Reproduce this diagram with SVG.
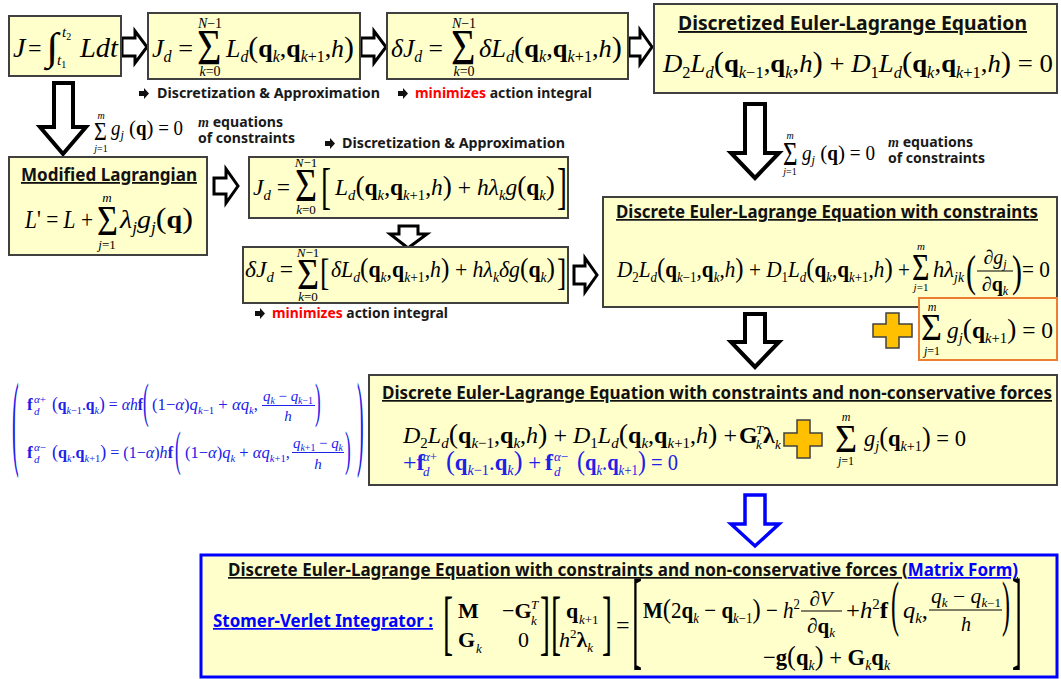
<svg xmlns="http://www.w3.org/2000/svg" width="1061" height="679" viewBox="0 0 1061 679">
<style>
.box{fill:#FFFFCC;stroke:#404040;stroke-width:2}
.obox{fill:#FFFFCC;stroke:#ED7D31;stroke-width:2}
.bbox{fill:#FFFFCC;stroke:#0000FF;stroke-width:3}
.arr{fill:#fff;stroke:#000;stroke-width:3;stroke-linejoin:miter}
.arr4{fill:#fff;stroke:#000;stroke-width:4;stroke-linejoin:miter}
.barr{fill:#fff;stroke:#0000FF;stroke-width:3.5;stroke-linejoin:miter}
.plus{fill:#FFC000;stroke:#404040;stroke-width:1.5}
.m{font-family:"Liberation Serif",serif;font-style:italic;fill:#000}
.r{font-style:normal}
.b{font-style:normal;font-weight:bold}
.lb{font-family:"Noto Sans","Open Sans",sans-serif;font-weight:bold;fill:#1a1a1a;font-size:14px}
.tt{font-family:"Noto Sans","Open Sans",sans-serif;font-weight:bold;fill:#111}
.u{text-decoration:underline}
.mm{font-family:"Liberation Serif",serif;font-style:italic}
.red{fill:#FF0000}
.blue{fill:#2020E8}
.bl{fill:#0000FF}
.fr{stroke:#000;stroke-width:1.2}
.frb{stroke:#2020E8;stroke-width:1.2}
</style>
<defs>
<path id="bul" d="M0,-2.5 H5 V-5.5 L10,0 L5,5.5 V2.5 H0 Z" fill="#111"/>
</defs>

<g id="connectors">
<polygon class="arr" points="122,38 135,38 135,31 147,47 135,63 135,56 122,56"/>
<polygon class="arr" points="361,38 374,38 374,31 386,47 374,63 374,56 361,56"/>
<polygon class="arr" points="629,38 640,38 640,30 652,47 640,64 640,56 629,56"/>
<polygon class="arr4" points="54,83 73,83 73,127 86,127 63,154 40,127 54,127"/>
<polygon class="arr" points="214,178 226,178 226,169 238,186 226,203 226,194 214,194"/>
<polygon class="arr" points="399,226 418,226 418,234 427,234 408,248 390,234 399,234"/>
<polygon class="arr" points="574,266 585,266 585,258 597,275 585,292 585,284 574,284"/>
<polygon class="arr4" points="745,104 765,104 765,153 779,153 755,178 731,153 745,153"/>
<polygon class="arr4" points="745,314 765,314 765,342 779,342 755,367 731,342 745,342"/>
<polygon class="barr" points="745,495 765,495 765,524 779,524 755,546 731,524 745,524"/>
</g>

<g id="n1">
<rect class="box" x="9" y="16" width="112" height="60"/>
<text class="m" font-size="28" x="13" y="57">J</text>
<text class="m r" font-size="24" x="28" y="56">=</text>
<text class="m r" font-size="34" transform="translate(46,60) scale(1.3,1.15)">∫</text>
<text class="m" font-size="15" x="62" y="37">t<tspan class="r" font-size="10" dy="3">2</tspan></text>
<text class="m" font-size="15" x="57" y="65">t<tspan class="r" font-size="10" dy="3">1</tspan></text>
<text class="m" font-size="28" x="80" y="57" textLength="38" lengthAdjust="spacingAndGlyphs">Ldt</text>
</g>

<g id="n2">
<rect class="box" x="148" y="13" width="212" height="66"/>
<text class="m" font-size="26" x="152" y="57" textLength="41" lengthAdjust="spacingAndGlyphs">J<tspan font-size="16" dy="5">d</tspan><tspan class="r" dy="-5"> =</tspan></text>
<text class="m r" font-size="42" transform="translate(197,64) scale(1,1.22)">Σ</text>
<text class="m" font-size="14" x="210" y="28" text-anchor="middle">N<tspan class="r">−1</tspan></text>
<text class="m" font-size="14" x="210" y="76" text-anchor="middle">k<tspan class="r">=0</tspan></text>
<text class="m" font-size="26" x="226" y="57" textLength="128" lengthAdjust="spacingAndGlyphs">L<tspan font-size="16" dy="5">d</tspan><tspan class="r" font-size="30" dy="-5">(</tspan><tspan class="b">q</tspan><tspan font-size="16" dy="5">k</tspan><tspan class="r" dy="-5">,</tspan><tspan class="b">q</tspan><tspan font-size="16" dy="5">k<tspan class="r">+1</tspan></tspan><tspan class="r" dy="-5">,</tspan>h<tspan class="r" font-size="30">)</tspan></text>
</g>

<g id="n3">
<rect class="box" x="387" y="13" width="241" height="66"/>
<text class="m" font-size="26" x="391" y="57" textLength="52" lengthAdjust="spacingAndGlyphs">δJ<tspan font-size="16" dy="5">d</tspan><tspan class="r" dy="-5"> =</tspan></text>
<text class="m r" font-size="42" transform="translate(451,64) scale(1,1.22)">Σ</text>
<text class="m" font-size="14" x="464" y="28" text-anchor="middle">N<tspan class="r">−1</tspan></text>
<text class="m" font-size="14" x="464" y="76" text-anchor="middle">k<tspan class="r">=0</tspan></text>
<text class="m" font-size="26" x="479" y="57" textLength="143" lengthAdjust="spacingAndGlyphs">δL<tspan font-size="16" dy="5">d</tspan><tspan class="r" font-size="30" dy="-5">(</tspan><tspan class="b">q</tspan><tspan font-size="16" dy="5">k</tspan><tspan class="r" dy="-5">,</tspan><tspan class="b">q</tspan><tspan font-size="16" dy="5">k<tspan class="r">+1</tspan></tspan><tspan class="r" dy="-5">,</tspan>h<tspan class="r" font-size="30">)</tspan></text>
</g>

<g id="n4">
<rect class="box" x="654" y="4" width="403" height="89"/>
<text class="tt u" font-size="19" x="678" y="30" textLength="349" lengthAdjust="spacingAndGlyphs">Discretized Euler-Lagrange Equation</text>
<text class="m" font-size="26" x="663" y="72" textLength="390" lengthAdjust="spacingAndGlyphs">D<tspan class="r" font-size="16" dy="6">2</tspan><tspan dy="-6">L</tspan><tspan font-size="16" dy="6">d</tspan><tspan class="r" font-size="30" dy="-6">(</tspan><tspan class="b">q</tspan><tspan font-size="16" dy="6">k<tspan class="r">−1</tspan></tspan><tspan class="r" dy="-6">,</tspan><tspan class="b">q</tspan><tspan font-size="16" dy="6">k</tspan><tspan class="r" dy="-6">,</tspan>h<tspan class="r" font-size="30">)</tspan><tspan class="r"> + </tspan>D<tspan class="r" font-size="16" dy="6">1</tspan><tspan dy="-6">L</tspan><tspan font-size="16" dy="6">d</tspan><tspan class="r" font-size="30" dy="-6">(</tspan><tspan class="b">q</tspan><tspan font-size="16" dy="6">k</tspan><tspan class="r" dy="-6">,</tspan><tspan class="b">q</tspan><tspan font-size="16" dy="6">k<tspan class="r">+1</tspan></tspan><tspan class="r" dy="-6">,</tspan>h<tspan class="r" font-size="30">)</tspan><tspan class="r"> = 0</tspan></text>
</g>

<g id="labels">
<use href="#bul" x="139" y="93.5"/>
<text class="lb" x="157" y="98" textLength="223" lengthAdjust="spacingAndGlyphs">Discretization &amp; Approximation</text>
<use href="#bul" x="398" y="93.5"/>
<text class="lb" x="415" y="98" textLength="177" lengthAdjust="spacingAndGlyphs"><tspan class="red">minimizes</tspan> action integral</text>
<use href="#bul" x="325" y="143.5"/>
<text class="lb" x="342" y="148" textLength="223" lengthAdjust="spacingAndGlyphs">Discretization &amp; Approximation</text>
<use href="#bul" x="255" y="313.5"/>
<text class="lb" x="272" y="318" textLength="176" lengthAdjust="spacingAndGlyphs"><tspan class="red">minimizes</tspan> action integral</text>
</g>

<g id="c1">
<text class="m r" font-size="22" transform="translate(94,140) scale(1,1.15)">Σ</text>
<text class="m" font-size="10" x="101" y="119" text-anchor="middle">m</text>
<text class="m" font-size="10" x="101" y="152" text-anchor="middle">j<tspan class="r">=1</tspan></text>
<text class="m" font-size="20" x="111" y="135" textLength="72" lengthAdjust="spacingAndGlyphs">g<tspan font-size="13" dy="4">j</tspan><tspan class="r" font-size="22" dy="-4"> (</tspan><tspan class="b">q</tspan><tspan class="r" font-size="22">)</tspan><tspan class="r"> = 0</tspan></text>
<text class="lb" x="198" y="127" textLength="85" lengthAdjust="spacingAndGlyphs"><tspan class="mm">m</tspan> equations</text>
<text class="lb" x="198" y="143" textLength="97" lengthAdjust="spacingAndGlyphs">of constraints</text>
</g>

<g id="c2">
<text class="m r" font-size="25" transform="translate(783,165) scale(1,1.33)">Σ</text>
<text class="m" font-size="10" x="790" y="139" text-anchor="middle">m</text>
<text class="m" font-size="10" x="790" y="175" text-anchor="middle">j<tspan class="r">=1</tspan></text>
<text class="m" font-size="20" x="802" y="160" textLength="73" lengthAdjust="spacingAndGlyphs">g<tspan font-size="13" dy="4">j</tspan><tspan class="r" font-size="22" dy="-4"> (</tspan><tspan class="b">q</tspan><tspan class="r" font-size="22">)</tspan><tspan class="r"> = 0</tspan></text>
<text class="lb" x="888" y="147" textLength="85" lengthAdjust="spacingAndGlyphs"><tspan class="mm">m</tspan> equations</text>
<text class="lb" x="888" y="163" textLength="97" lengthAdjust="spacingAndGlyphs">of constraints</text>
</g>

<g id="n5">
<rect class="box" x="9" y="157" width="198" height="98"/>
<text class="tt u" font-size="18" x="21" y="181" textLength="176" lengthAdjust="spacingAndGlyphs">Modified Lagrangian</text>
<text class="m" font-size="26" x="25" y="228" textLength="68" lengthAdjust="spacingAndGlyphs">L<tspan class="r">' = </tspan>L<tspan class="r"> +</tspan></text>
<text class="m r" font-size="36" transform="translate(97,235) scale(1,1.2)">Σ</text>
<text class="m" font-size="13" x="107" y="202" text-anchor="middle">m</text>
<text class="m" font-size="13" x="107" y="249" text-anchor="middle">j<tspan class="r">=1</tspan></text>
<text class="m" font-size="26" x="120" y="228" textLength="73" lengthAdjust="spacingAndGlyphs">λ<tspan font-size="16" dy="5">j</tspan><tspan dy="-5">g</tspan><tspan font-size="16" dy="5">j</tspan><tspan class="r" font-size="30" dy="-5">(</tspan><tspan class="b">q</tspan><tspan class="r" font-size="30">)</tspan></text>
</g>

<g id="n6">
<rect class="box" x="249" y="157" width="319" height="61"/>
<text class="m" font-size="24" x="253" y="195" textLength="37" lengthAdjust="spacingAndGlyphs">J<tspan font-size="15" dy="5">d</tspan><tspan class="r" dy="-5"> =</tspan></text>
<text class="m r" font-size="38" transform="translate(295,201) scale(1,1.2)">Σ</text>
<text class="m" font-size="13" x="306" y="167" text-anchor="middle">N<tspan class="r">−1</tspan></text>
<text class="m" font-size="13" x="306" y="214" text-anchor="middle">k<tspan class="r">=0</tspan></text>
<text class="m r" font-size="30" transform="translate(321,203) scale(1,1.67)">[</text>
<text class="m" font-size="24" x="335" y="195" textLength="220" lengthAdjust="spacingAndGlyphs">L<tspan font-size="15" dy="5">d</tspan><tspan class="r" font-size="28" dy="-5">(</tspan><tspan class="b">q</tspan><tspan font-size="15" dy="5">k</tspan><tspan class="r" dy="-5">,</tspan><tspan class="b">q</tspan><tspan font-size="15" dy="5">k<tspan class="r">+1</tspan></tspan><tspan class="r" dy="-5">,</tspan>h<tspan class="r" font-size="28">)</tspan><tspan class="r"> + </tspan>hλ<tspan font-size="15" dy="5">k</tspan><tspan dy="-5">g</tspan><tspan class="r" font-size="28">(</tspan><tspan class="b">q</tspan><tspan font-size="15" dy="5">k</tspan><tspan class="r" font-size="28" dy="-5">)</tspan></text>
<text class="m r" font-size="30" transform="translate(557,203) scale(1,1.67)">]</text>
</g>

<g id="n7">
<rect class="box" x="243" y="247" width="325" height="56"/>
<text class="m" font-size="24" x="245" y="277" textLength="48" lengthAdjust="spacingAndGlyphs">δJ<tspan font-size="15" dy="5">d</tspan><tspan class="r" dy="-5"> =</tspan></text>
<text class="m r" font-size="38" transform="translate(297,289) scale(1,1.15)">Σ</text>
<text class="m" font-size="13" x="308" y="257" text-anchor="middle">N<tspan class="r">−1</tspan></text>
<text class="m" font-size="13" x="308" y="301" text-anchor="middle">k<tspan class="r">=0</tspan></text>
<text class="m r" font-size="28" transform="translate(320,285) scale(1,1.35)">[</text>
<text class="m" font-size="24" x="331" y="277" textLength="224" lengthAdjust="spacingAndGlyphs">δL<tspan font-size="15" dy="5">d</tspan><tspan class="r" font-size="28" dy="-5">(</tspan><tspan class="b">q</tspan><tspan font-size="15" dy="5">k</tspan><tspan class="r" dy="-5">,</tspan><tspan class="b">q</tspan><tspan font-size="15" dy="5">k<tspan class="r">+1</tspan></tspan><tspan class="r" dy="-5">,</tspan>h<tspan class="r" font-size="28">)</tspan><tspan class="r"> + </tspan>hλ<tspan font-size="15" dy="5">k</tspan><tspan dy="-5">δg</tspan><tspan class="r" font-size="28">(</tspan><tspan class="b">q</tspan><tspan font-size="15" dy="5">k</tspan><tspan class="r" font-size="28" dy="-5">)</tspan></text>
<text class="m r" font-size="28" transform="translate(557,285) scale(1,1.35)">]</text>
</g>

<g id="n8">
<rect class="box" x="603" y="197" width="454" height="110"/>
<text class="tt u" font-size="17" x="616" y="218" textLength="422" lengthAdjust="spacingAndGlyphs">Discrete Euler-Lagrange Equation with constraints</text>
<text class="m" font-size="23" x="617" y="277" textLength="293" lengthAdjust="spacingAndGlyphs">D<tspan class="r" font-size="14" dy="5">2</tspan><tspan dy="-5">L</tspan><tspan font-size="14" dy="5">d</tspan><tspan class="r" font-size="27" dy="-5">(</tspan><tspan class="b">q</tspan><tspan font-size="14" dy="5">k<tspan class="r">−1</tspan></tspan><tspan class="r" dy="-5">,</tspan><tspan class="b">q</tspan><tspan font-size="14" dy="5">k</tspan><tspan class="r" dy="-5">,</tspan>h<tspan class="r" font-size="27">)</tspan><tspan class="r"> + </tspan>D<tspan class="r" font-size="14" dy="5">1</tspan><tspan dy="-5">L</tspan><tspan font-size="14" dy="5">d</tspan><tspan class="r" font-size="27" dy="-5">(</tspan><tspan class="b">q</tspan><tspan font-size="14" dy="5">k</tspan><tspan class="r" dy="-5">,</tspan><tspan class="b">q</tspan><tspan font-size="14" dy="5">k<tspan class="r">+1</tspan></tspan><tspan class="r" dy="-5">,</tspan>h<tspan class="r" font-size="27">)</tspan><tspan class="r"> +</tspan></text>
<text class="m r" font-size="30" transform="translate(912,280) scale(1,1.26)">Σ</text>
<text class="m" font-size="11" x="921" y="250" text-anchor="middle">m</text>
<text class="m" font-size="11" x="921" y="291" text-anchor="middle">j<tspan class="r">=1</tspan></text>
<text class="m" font-size="23" x="933" y="277" textLength="31" lengthAdjust="spacingAndGlyphs">hλ<tspan font-size="14" dy="5">jk</tspan></text>
<text class="m r" font-size="30" transform="translate(966,286) scale(1,1.5)">(</text>
<text class="m" font-size="20" x="995" y="264" text-anchor="middle"><tspan class="r">∂</tspan>g<tspan font-size="12" dy="4">j</tspan></text>
<line class="fr" x1="977" y1="271" x2="1013" y2="271"/>
<text class="m" font-size="20" x="995" y="291" text-anchor="middle"><tspan class="r">∂</tspan><tspan class="b">q</tspan><tspan font-size="12" dy="4">k</tspan></text>
<text class="m r" font-size="30" transform="translate(1012,286) scale(1,1.5)">)</text>
<text class="m r" font-size="23" x="1022" y="277" textLength="28" lengthAdjust="spacingAndGlyphs">= 0</text>
</g>

<g id="n9">
<rect class="obox" x="919" y="298" width="138" height="62"/>
<text class="m r" font-size="36" transform="translate(921,340) scale(1,1.05)">Σ</text>
<text class="m" font-size="12" x="932" y="311" text-anchor="middle">m</text>
<text class="m" font-size="12" x="932" y="355" text-anchor="middle">j<tspan class="r">=1</tspan></text>
<text class="m" font-size="24" x="947" y="338" textLength="106" lengthAdjust="spacingAndGlyphs">g<tspan font-size="15" dy="5">j</tspan><tspan class="r" font-size="28" dy="-5">(</tspan><tspan class="b">q</tspan><tspan font-size="15" dy="5">k<tspan class="r">+1</tspan></tspan><tspan class="r" font-size="28" dy="-5">)</tspan><tspan class="r"> = 0</tspan></text>
</g>

<g id="plus1">
<polygon class="plus" points="886,313 899,313 899,324 912,324 912,337 899,337 899,348 886,348 886,337 873,337 873,324 886,324"/>
</g>

<g id="n10">
<text class="m r blue" font-size="20" transform="translate(12,456) scale(1,5.28)">(</text>
<text class="m r blue" font-size="20" transform="translate(357,456) scale(1,5.28)">)</text>
<text class="m blue b" font-size="17" x="27" y="410">f</text>
<text class="m blue" font-size="11" x="34" y="403">α<tspan class="r">+</tspan></text>
<text class="m blue" font-size="11" x="34" y="415">d</text>
<text class="m blue" font-size="17" x="52" y="410" textLength="91" lengthAdjust="spacingAndGlyphs"><tspan class="r" font-size="19">(</tspan><tspan class="b">q</tspan><tspan font-size="11" dy="4">k<tspan class="r">−1</tspan></tspan><tspan class="r" dy="-4">.</tspan><tspan class="b">q</tspan><tspan font-size="11" dy="4">k</tspan><tspan class="r" font-size="19" dy="-4">)</tspan><tspan class="r"> = </tspan>αh<tspan class="b">f</tspan></text>
<text class="m r blue" font-size="17" transform="translate(143,417) scale(1,2.84)">(</text>
<text class="m blue" font-size="17" x="152" y="410" textLength="106" lengthAdjust="spacingAndGlyphs"><tspan class="r">(1−</tspan>α<tspan class="r">)</tspan>q<tspan font-size="11" dy="4">k<tspan class="r">−1</tspan></tspan><tspan class="r" dy="-4"> + </tspan>αq<tspan font-size="11" dy="4">k</tspan><tspan class="r" dy="-4">,</tspan></text>
<text class="m blue" font-size="15" x="263" y="401" textLength="50" lengthAdjust="spacingAndGlyphs">q<tspan font-size="10" dy="3">k</tspan><tspan class="r" dy="-3"> − </tspan>q<tspan font-size="10" dy="3">k<tspan class="r">−1</tspan></tspan></text>
<line class="frb" x1="262" y1="405.5" x2="315" y2="405.5"/>
<text class="m blue" font-size="15" x="288" y="421" text-anchor="middle">h</text>
<text class="m r blue" font-size="17" transform="translate(315,417) scale(1,2.84)">)</text>

<text class="m blue b" font-size="17" x="27" y="458">f</text>
<text class="m blue" font-size="11" x="34" y="451">α<tspan class="r">−</tspan></text>
<text class="m blue" font-size="11" x="34" y="463">d</text>
<text class="m blue" font-size="17" x="52" y="458" textLength="121" lengthAdjust="spacingAndGlyphs"><tspan class="r" font-size="19">(</tspan><tspan class="b">q</tspan><tspan font-size="11" dy="4">k</tspan><tspan class="r" dy="-4">.</tspan><tspan class="b">q</tspan><tspan font-size="11" dy="4">k<tspan class="r">+1</tspan></tspan><tspan class="r" font-size="19" dy="-4">)</tspan><tspan class="r"> = (1−</tspan>α<tspan class="r">)</tspan>h<tspan class="b">f</tspan></text>
<text class="m r blue" font-size="17" transform="translate(175,465) scale(1,2.84)">(</text>
<text class="m blue" font-size="17" x="185" y="458" textLength="105" lengthAdjust="spacingAndGlyphs"><tspan class="r">(1−</tspan>α<tspan class="r">)</tspan>q<tspan font-size="11" dy="4">k</tspan><tspan class="r" dy="-4"> + </tspan>αq<tspan font-size="11" dy="4">k<tspan class="r">+1</tspan></tspan><tspan class="r" dy="-4">,</tspan></text>
<text class="m blue" font-size="15" x="293" y="448" textLength="50" lengthAdjust="spacingAndGlyphs">q<tspan font-size="10" dy="3">k<tspan class="r">+1</tspan></tspan><tspan class="r" dy="-3"> − </tspan>q<tspan font-size="10" dy="3">k</tspan></text>
<line class="frb" x1="292" y1="452.5" x2="344" y2="452.5"/>
<text class="m blue" font-size="15" x="318" y="469" text-anchor="middle">h</text>
<text class="m r blue" font-size="17" transform="translate(345,465) scale(1,2.84)">)</text>
</g>

<g id="n11">
<rect class="box" x="369" y="375" width="688" height="110"/>
<text class="tt u" font-size="17" x="382" y="399" textLength="670" lengthAdjust="spacingAndGlyphs">Discrete Euler-Lagrange Equation with constraints and non-conservative forces</text>
<text class="m" font-size="24" x="403" y="443" textLength="334" lengthAdjust="spacingAndGlyphs">D<tspan class="r" font-size="15" dy="5">2</tspan><tspan dy="-5">L</tspan><tspan font-size="15" dy="5">d</tspan><tspan class="r" font-size="28" dy="-5">(</tspan><tspan class="b">q</tspan><tspan font-size="15" dy="5">k<tspan class="r">−1</tspan></tspan><tspan class="r" dy="-5">,</tspan><tspan class="b">q</tspan><tspan font-size="15" dy="5">k</tspan><tspan class="r" dy="-5">,</tspan>h<tspan class="r" font-size="28">)</tspan><tspan class="r"> + </tspan>D<tspan class="r" font-size="15" dy="5">1</tspan><tspan dy="-5">L</tspan><tspan font-size="15" dy="5">d</tspan><tspan class="r" font-size="28" dy="-5">(</tspan><tspan class="b">q</tspan><tspan font-size="15" dy="5">k</tspan><tspan class="r" dy="-5">,</tspan><tspan class="b">q</tspan><tspan font-size="15" dy="5">k<tspan class="r">+1</tspan></tspan><tspan class="r" dy="-5">,</tspan>h<tspan class="r" font-size="28">)</tspan><tspan class="r"> +</tspan></text>
<text class="m b" font-size="24" x="739" y="443">G</text>
<text class="m" font-size="13" x="756" y="434">T</text>
<text class="m" font-size="13" x="756" y="449">k</text>
<text class="m b" font-size="24" x="763" y="443">λ</text>
<text class="m" font-size="13" x="775" y="449">k</text>
<text class="m blue" font-size="24" x="403" y="470"><tspan class="r">+</tspan><tspan class="b">f</tspan></text>
<text class="m blue" font-size="13" x="423" y="461">α<tspan class="r">+</tspan></text>
<text class="m blue" font-size="13" x="423" y="476">d</text>
<text class="m blue" font-size="24" x="446" y="470" textLength="95" lengthAdjust="spacingAndGlyphs"><tspan class="r" font-size="28">(</tspan><tspan class="b">q</tspan><tspan font-size="15" dy="5">k<tspan class="r">−1</tspan></tspan><tspan class="r" dy="-5">.</tspan><tspan class="b">q</tspan><tspan font-size="15" dy="5">k</tspan><tspan class="r" font-size="28" dy="-5">)</tspan><tspan class="r"> +</tspan></text>
<text class="m blue b" font-size="24" x="545" y="470">f</text>
<text class="m blue" font-size="13" x="554" y="461">α<tspan class="r">−</tspan></text>
<text class="m blue" font-size="13" x="554" y="476">d</text>
<text class="m blue" font-size="24" x="577" y="470" textLength="101" lengthAdjust="spacingAndGlyphs"><tspan class="r" font-size="28">(</tspan><tspan class="b">q</tspan><tspan font-size="15" dy="5">k</tspan><tspan class="r" dy="-5">.</tspan><tspan class="b">q</tspan><tspan font-size="15" dy="5">k<tspan class="r">+1</tspan></tspan><tspan class="r" font-size="28" dy="-5">)</tspan><tspan class="r"> = 0</tspan></text>
<text class="m r" font-size="38" transform="translate(835,452) scale(1,1.08)">Σ</text>
<text class="m" font-size="12" x="846" y="421" text-anchor="middle">m</text>
<text class="m" font-size="12" x="846" y="465" text-anchor="middle">j<tspan class="r">=1</tspan></text>
<text class="m" font-size="24" x="864" y="446" textLength="102" lengthAdjust="spacingAndGlyphs">g<tspan font-size="15" dy="5">j</tspan><tspan class="r" font-size="28" dy="-5">(</tspan><tspan class="b">q</tspan><tspan font-size="15" dy="5">k<tspan class="r">+1</tspan></tspan><tspan class="r" font-size="28" dy="-5">)</tspan><tspan class="r"> = 0</tspan></text>
</g>

<g id="plus2">
<polygon class="plus" points="797,420 810,420 810,433 822,433 822,446 810,446 810,458 797,458 797,446 784,446 784,433 797,433"/>
</g>

<g id="n12">
<rect class="bbox" x="201" y="555" width="856" height="122"/>
<text class="tt" font-size="17" x="228" y="576" textLength="790" lengthAdjust="spacingAndGlyphs"><tspan class="u">Discrete Euler-Lagrange Equation with constraints and non-conservative forces (</tspan><tspan class="u bl">Matrix Form)</tspan></text>
<text class="tt u bl" font-size="17" x="213" y="627" textLength="220" lengthAdjust="spacingAndGlyphs">Stomer-Verlet Integrator :</text>
<text class="m r" font-size="30" transform="translate(443,646) scale(1,2.4)">[</text>
<text class="m b" font-size="22" x="458" y="618">M</text>
<text class="m" font-size="22" x="502" y="618"><tspan class="r">−</tspan><tspan class="b">G</tspan></text>
<text class="m" font-size="13" x="531" y="609">T</text>
<text class="m" font-size="13" x="531" y="625">k</text>
<text class="m b" font-size="22" x="458" y="647">G</text>
<text class="m" font-size="13" x="476" y="653">k</text>
<text class="m r" font-size="22" x="518" y="647">0</text>
<text class="m r" font-size="30" transform="translate(540,646) scale(1,2.4)">]</text>
<text class="m r" font-size="30" transform="translate(551,646) scale(1,2.4)">[</text>
<text class="m b" font-size="22" x="566" y="618">q</text>
<text class="m" font-size="13" x="579" y="624">k<tspan class="r">+1</tspan></text>
<text class="m" font-size="22" x="559" y="647">h<tspan class="r" font-size="13" dy="-9">2</tspan><tspan class="b" dy="9">λ</tspan><tspan font-size="13" dy="5">k</tspan></text>
<text class="m r" font-size="30" transform="translate(602,646) scale(1,2.4)">]</text>
<text class="m r" font-size="24" x="616" y="633">=</text>
<text class="m r" font-size="30" transform="translate(632,655) scale(1,3.67)">[</text>
<text class="m r" font-size="30" transform="translate(1012,655) scale(1,3.67)">]</text>
<text class="m" font-size="23" x="643" y="618" textLength="157" lengthAdjust="spacingAndGlyphs"><tspan class="b">M</tspan><tspan class="r" font-size="27">(</tspan><tspan class="r">2</tspan><tspan class="b">q</tspan><tspan font-size="14" dy="5">k</tspan><tspan class="r" dy="-5"> − </tspan><tspan class="b">q</tspan><tspan font-size="14" dy="5">k<tspan class="r">−1</tspan></tspan><tspan class="r" font-size="27" dy="-5">)</tspan><tspan class="r"> − </tspan>h<tspan class="r" font-size="14" dy="-9">2</tspan></text>
<text class="m" font-size="21" x="821" y="606" text-anchor="middle"><tspan class="r">∂</tspan>V</text>
<line class="fr" x1="801" y1="611" x2="842" y2="611"/>
<text class="m" font-size="21" x="821" y="633" text-anchor="middle"><tspan class="r">∂</tspan><tspan class="b">q</tspan><tspan font-size="13" dy="4">k</tspan></text>
<text class="m" font-size="23" x="846" y="618" textLength="42" lengthAdjust="spacingAndGlyphs"><tspan class="r">+</tspan>h<tspan class="r" font-size="14" dy="-9">2</tspan><tspan class="b" dy="9">f</tspan></text>
<text class="m r" font-size="24" transform="translate(891,624) scale(1,2.54)">(</text>
<text class="m" font-size="23" x="903" y="618" textLength="25" lengthAdjust="spacingAndGlyphs">q<tspan font-size="14" dy="5">k</tspan><tspan class="r" dy="-5">,</tspan></text>
<text class="m" font-size="20" x="931" y="603" textLength="70" lengthAdjust="spacingAndGlyphs">q<tspan font-size="12" dy="4">k</tspan><tspan class="r" dy="-4"> − </tspan>q<tspan font-size="12" dy="4">k<tspan class="r">−1</tspan></tspan></text>
<line class="fr" x1="929" y1="610" x2="1002" y2="610"/>
<text class="m" font-size="20" x="966" y="631" text-anchor="middle">h</text>
<text class="m r" font-size="24" transform="translate(1002,624) scale(1,2.54)">)</text>
<text class="m" font-size="23" x="763" y="665" textLength="127" lengthAdjust="spacingAndGlyphs"><tspan class="r">−</tspan><tspan class="b">g</tspan><tspan class="r" font-size="27">(</tspan><tspan class="b">q</tspan><tspan font-size="14" dy="5">k</tspan><tspan class="r" font-size="27" dy="-5">)</tspan><tspan class="r"> + </tspan><tspan class="b">G</tspan><tspan font-size="14" dy="5">k</tspan><tspan class="b" dy="-5">q</tspan><tspan font-size="14" dy="5">k</tspan></text>
</g>
</svg>
